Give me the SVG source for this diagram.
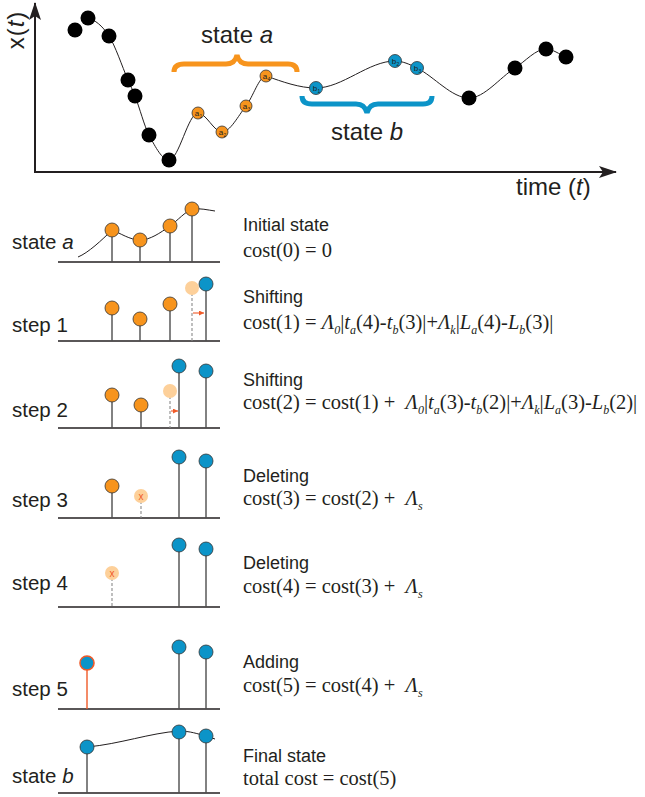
<svg xmlns="http://www.w3.org/2000/svg" width="645" height="797" viewBox="0 0 645 797">
<style>
.ax{stroke:#231f20;stroke-width:2;fill:none}
.crv{stroke:#231f20;stroke-width:1;fill:none}
.bk{fill:#000}
.oc{fill:#f7941d;stroke:#333;stroke-width:0.8}
.bc{fill:#0c94c8;stroke:#333;stroke-width:0.8}
.fc{fill:#fdd09a}
.base{stroke:#231f20;stroke-width:1.6}
.stem{stroke:#4d4d4d;stroke-width:1.4}
.dash{stroke:#8a8a8a;stroke-width:1.1;stroke-dasharray:3 2}
.red{stroke:#f05a28;stroke-width:1.1;fill:none}
.lbl{font-family:"Liberation Sans",Arial,sans-serif;font-size:8px;fill:#231f20;text-anchor:middle}
.lsub{font-family:"Liberation Sans",Arial,sans-serif;font-size:5px;fill:#231f20}
.big{font-family:"Liberation Sans",Arial,sans-serif;font-size:24px;fill:#231f20}
.lab{font-family:"Liberation Sans",Arial,sans-serif;font-size:20.5px;fill:#231f20}
.ttl{font-family:"Liberation Sans",Arial,sans-serif;font-size:18px;fill:#231f20}
.f{font-family:"Liberation Serif","Times New Roman",serif;font-size:20.5px;fill:#231f20}
.i{font-style:italic}
.sb{font-style:italic;font-size:12px}
.xm{font-family:"Liberation Sans",Arial,sans-serif;font-size:10px;fill:#f05a28;text-anchor:middle}
</style>
<defs>
<marker id="axarrow" viewBox="0 0 18 12" refX="17" refY="6" markerWidth="18" markerHeight="12" markerUnits="userSpaceOnUse" orient="auto">
<path d="M0,0 L18,6 L0,12 L4,6 Z" fill="#231f20"/>
</marker>
<marker id="redarrow" viewBox="0 0 6 6" refX="6" refY="3" markerWidth="5" markerHeight="5" markerUnits="userSpaceOnUse" orient="auto">
<path d="M0,0 L6,3 L0,6 Z" fill="#f05a28"/>
</marker>
</defs>

<g id="axes">
<line x1="35" y1="172" x2="35" y2="3" class="ax" marker-end="url(#axarrow)"/>
<line x1="34" y1="172" x2="616" y2="172" class="ax" marker-end="url(#axarrow)"/>
<text class="big" transform="translate(24,30) rotate(-90)" text-anchor="middle" letter-spacing="1">x(<tspan class="i">t</tspan>)</text>
<text class="big" x="516" y="195">time (<tspan class="i">t</tspan>)</text>
</g>

<g id="connectors">
<path class="crv" d="M88,18 C95,20.1 102,25.2 109,36 C115.3,45.8 121.7,65.4 128,80 C130.3,85.4 132.7,89.9 135,96 C139.7,108.1 144.3,126.1 149,135 C155.7,147.7 162.3,160 169,160 C178.7,160 188.3,113 198,113 C206,113 214,132 222,132 C230,132 238,116.2 246,106 C252.7,97.5 259.3,76 266,76 C282.7,81.8 299.3,88 316,88 C342.3,88 368.7,61 395,61 C402.3,61 409.7,64.3 417,68 C434.3,76.7 451.7,98 469,98 C484.3,98 499.7,77.8 515,68 C525.3,61.4 535.7,49 546,49 C552.7,49 559.3,54.3 566,57"/>
</g>

<g id="braces">
<path d="M174,72 Q174,64 184,64 L226,64 Q235,64 237,55 Q239,64 248,64 L288,64 Q297,64 297,72" fill="none" stroke="#f7941d" stroke-width="5"/>
<text class="big" x="237" y="43" text-anchor="middle">state <tspan class="i">a</tspan></text>
<path d="M302,96 Q302,104 312,104 L356,104 Q365,104 367,113 Q369,104 378,104 L423,104 Q432,104 432,96" fill="none" stroke="#0c94c8" stroke-width="5"/>
<text class="big" x="367" y="140" text-anchor="middle">state <tspan class="i">b</tspan></text>
</g>

<g id="series-dots">
<circle cx="75" cy="30" r="7.5" class="bk"/>
<circle cx="88" cy="18" r="7.5" class="bk"/>
<circle cx="109" cy="36" r="7.5" class="bk"/>
<circle cx="128" cy="80" r="7.5" class="bk"/>
<circle cx="135" cy="96" r="7.5" class="bk"/>
<circle cx="149" cy="135" r="7.5" class="bk"/>
<circle cx="169" cy="160" r="7.5" class="bk"/>
<circle cx="469" cy="98" r="7.5" class="bk"/>
<circle cx="515" cy="68" r="7.5" class="bk"/>
<circle cx="546" cy="49" r="7.5" class="bk"/>
<circle cx="566" cy="57" r="7.5" class="bk"/>
</g>
<g id="a1"><circle cx="198" cy="113" r="6" class="oc"/><text x="197" y="115.5" class="lbl">a</text><text x="199.5" y="118" class="lsub">1</text></g>
<g id="a2"><circle cx="222" cy="132" r="6" class="oc"/><text x="221" y="134.5" class="lbl">a</text><text x="223.5" y="137" class="lsub">2</text></g>
<g id="a3"><circle cx="246" cy="106" r="6" class="oc"/><text x="245" y="108.5" class="lbl">a</text><text x="247.5" y="111" class="lsub">3</text></g>
<g id="a4"><circle cx="266" cy="76" r="6" class="oc"/><text x="265" y="78.5" class="lbl">a</text><text x="267.5" y="81" class="lsub">4</text></g>
<g id="b1"><circle cx="316" cy="88" r="6.5" class="bc"/><text x="315" y="91" class="lbl">b</text><text x="317.5" y="93" class="lsub">1</text></g>
<g id="b2"><circle cx="395" cy="61" r="6.5" class="bc"/><text x="394" y="64" class="lbl">b</text><text x="396.5" y="66" class="lsub">2</text></g>
<g id="b3"><circle cx="417" cy="68" r="6.5" class="bc"/><text x="416" y="71" class="lbl">b</text><text x="418.5" y="73" class="lsub">3</text></g>

<g id="row-state-a">
<text class="lab" x="12" y="249">state <tspan class="i">a</tspan></text>
<line x1="58" y1="262" x2="220" y2="262" class="base"/>
<path class="crv" d="M78,257 C88,253 102,240 112,230 C120,233 130,240 140,240 C150,240 160,233 170,226 C178,220 185,212 192,209 C200,208 208,210 215,211"/>
<line x1="112" y1="230" x2="112" y2="262" class="stem"/>
<line x1="140" y1="240" x2="140" y2="262" class="stem"/>
<line x1="170" y1="226" x2="170" y2="262" class="stem"/>
<line x1="192" y1="209" x2="192" y2="262" class="stem"/>
<circle cx="112" cy="230" r="7" class="oc"/>
<circle cx="140" cy="240" r="7" class="oc"/>
<circle cx="170" cy="226" r="7" class="oc"/>
<circle cx="192" cy="209" r="7" class="oc"/>
<text class="ttl" x="243" y="231">Initial state</text>
<text class="f" x="243" y="257">cost(0) = 0</text>
</g>

<g id="row-step-1">
<text class="lab" x="12" y="332">step 1</text>
<line x1="58" y1="341" x2="220" y2="341" class="base"/>
<line x1="112" y1="308" x2="112" y2="341" class="stem"/>
<line x1="140" y1="319" x2="140" y2="341" class="stem"/>
<line x1="170" y1="304" x2="170" y2="341" class="stem"/>
<line x1="192" y1="288" x2="192" y2="341" class="dash"/>
<line x1="206" y1="284" x2="206" y2="341" class="stem"/>
<line x1="193" y1="313" x2="204" y2="313" class="red" marker-end="url(#redarrow)"/>
<circle cx="112" cy="308" r="7" class="oc"/>
<circle cx="140" cy="319" r="7" class="oc"/>
<circle cx="170" cy="304" r="7" class="oc"/>
<circle cx="192" cy="288" r="7" class="fc"/>
<circle cx="206" cy="284" r="7" class="bc"/>
<text class="ttl" x="243" y="303">Shifting</text>
<text class="f" x="243" y="329">cost(1) = <tspan class="i">Λ</tspan><tspan class="sb" dy="5">0</tspan><tspan dy="-5">|</tspan><tspan class="i">t</tspan><tspan class="sb" dy="5">a</tspan><tspan dy="-5">(4)-</tspan><tspan class="i">t</tspan><tspan class="sb" dy="5">b</tspan><tspan dy="-5">(3)|+</tspan><tspan class="i">Λ</tspan><tspan class="sb" dy="5">k</tspan><tspan dy="-5">|</tspan><tspan class="i">L</tspan><tspan class="sb" dy="5">a</tspan><tspan dy="-5">(4)-</tspan><tspan class="i">L</tspan><tspan class="sb" dy="5">b</tspan><tspan dy="-5">(3)|</tspan></text>
</g>

<g id="row-step-2">
<text class="lab" x="12" y="417">step 2</text>
<line x1="58" y1="428" x2="220" y2="428" class="base"/>
<line x1="112" y1="395" x2="112" y2="428" class="stem"/>
<line x1="141" y1="405" x2="141" y2="428" class="stem"/>
<line x1="170" y1="391" x2="170" y2="428" class="dash"/>
<line x1="179" y1="366" x2="179" y2="428" class="stem"/>
<line x1="206" y1="371" x2="206" y2="428" class="stem"/>
<line x1="171" y1="411" x2="178" y2="411" class="red" marker-end="url(#redarrow)"/>
<circle cx="112" cy="395" r="7" class="oc"/>
<circle cx="141" cy="405" r="7" class="oc"/>
<circle cx="170" cy="391" r="7" class="fc"/>
<circle cx="179" cy="366" r="7" class="bc"/>
<circle cx="206" cy="371" r="7" class="bc"/>
<text class="ttl" x="243" y="386">Shifting</text>
<text class="f" x="243" y="409">cost(2) = cost(1) +&#160; <tspan class="i">Λ</tspan><tspan class="sb" dy="5">0</tspan><tspan dy="-5">|</tspan><tspan class="i">t</tspan><tspan class="sb" dy="5">a</tspan><tspan dy="-5">(3)-</tspan><tspan class="i">t</tspan><tspan class="sb" dy="5">b</tspan><tspan dy="-5">(2)|+</tspan><tspan class="i">Λ</tspan><tspan class="sb" dy="5">k</tspan><tspan dy="-5">|</tspan><tspan class="i">L</tspan><tspan class="sb" dy="5">a</tspan><tspan dy="-5">(3)-</tspan><tspan class="i">L</tspan><tspan class="sb" dy="5">b</tspan><tspan dy="-5">(2)|</tspan></text>
</g>

<g id="row-step-3">
<text class="lab" x="12" y="507">step 3</text>
<line x1="58" y1="518" x2="220" y2="518" class="base"/>
<line x1="112" y1="486" x2="112" y2="518" class="stem"/>
<line x1="141" y1="496" x2="141" y2="518" class="dash"/>
<line x1="179" y1="457" x2="179" y2="518" class="stem"/>
<line x1="206" y1="461" x2="206" y2="518" class="stem"/>
<circle cx="112" cy="486" r="7" class="oc"/>
<circle cx="141" cy="496" r="7" class="fc"/>
<text class="xm" x="141" y="499.5">x</text>
<circle cx="179" cy="457" r="7" class="bc"/>
<circle cx="206" cy="461" r="7" class="bc"/>
<text class="ttl" x="243" y="482">Deleting</text>
<text class="f" x="243" y="505">cost(3) = cost(2) +&#160; <tspan class="i">Λ</tspan><tspan class="sb" dy="5">s</tspan></text>
</g>

<g id="row-step-4">
<text class="lab" x="12" y="590">step 4</text>
<line x1="58" y1="607" x2="220" y2="607" class="base"/>
<line x1="112" y1="573" x2="112" y2="607" class="dash"/>
<line x1="179" y1="545" x2="179" y2="607" class="stem"/>
<line x1="206" y1="549" x2="206" y2="607" class="stem"/>
<circle cx="112" cy="573" r="7" class="fc"/>
<text class="xm" x="112" y="576.5">x</text>
<circle cx="179" cy="545" r="7" class="bc"/>
<circle cx="206" cy="549" r="7" class="bc"/>
<text class="ttl" x="243" y="569">Deleting</text>
<text class="f" x="243" y="593">cost(4) = cost(3) +&#160; <tspan class="i">Λ</tspan><tspan class="sb" dy="5">s</tspan></text>
</g>

<g id="row-step-5">
<text class="lab" x="12" y="696">step 5</text>
<line x1="58" y1="709" x2="220" y2="709" class="base"/>
<line x1="87" y1="663" x2="87" y2="709" stroke="#f05a28" stroke-width="1.4"/>
<line x1="179" y1="647" x2="179" y2="709" class="stem"/>
<line x1="206" y1="652" x2="206" y2="709" class="stem"/>
<circle cx="87" cy="663" r="7" fill="#0c94c8" stroke="#f05a28" stroke-width="1.6"/>
<circle cx="179" cy="647" r="7" class="bc"/>
<circle cx="206" cy="652" r="7" class="bc"/>
<text class="ttl" x="243" y="668">Adding</text>
<text class="f" x="243" y="692">cost(5) = cost(4) +&#160; <tspan class="i">Λ</tspan><tspan class="sb" dy="5">s</tspan></text>
</g>

<g id="row-state-b">
<text class="lab" x="12" y="783">state <tspan class="i">b</tspan></text>
<line x1="58" y1="793" x2="220" y2="793" class="base"/>
<path class="crv" d="M80,747 L87,747 C120,744 150,733 179,731 C190,731 198,734 206,736 L215,739"/>
<line x1="87" y1="747" x2="87" y2="793" class="stem"/>
<line x1="179" y1="732" x2="179" y2="793" class="stem"/>
<line x1="206" y1="736" x2="206" y2="793" class="stem"/>
<circle cx="87" cy="747" r="7" class="bc"/>
<circle cx="179" cy="732" r="7" class="bc"/>
<circle cx="206" cy="736" r="7" class="bc"/>
<text class="ttl" x="243" y="762">Final state</text>
<text class="f" x="243" y="785">total cost = cost(5)</text>
</g>
</svg>
